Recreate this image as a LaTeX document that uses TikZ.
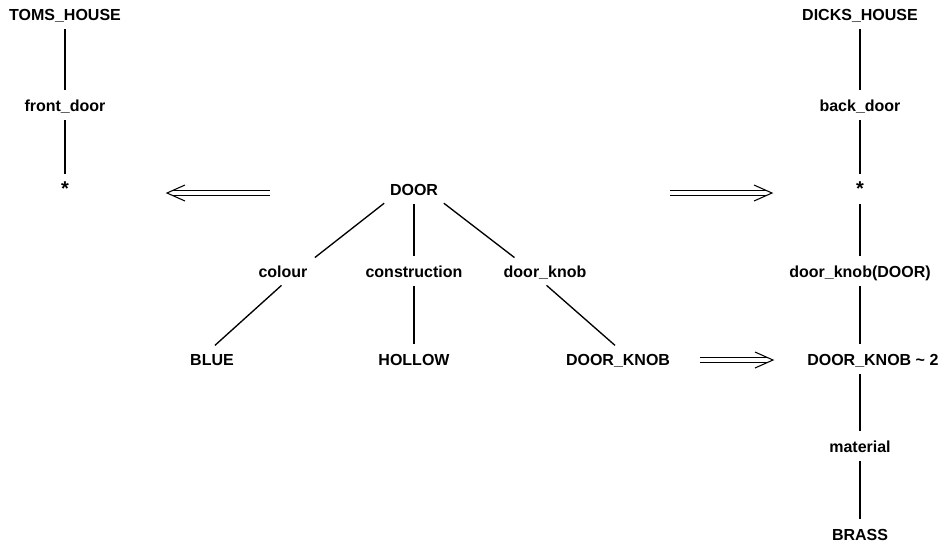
\documentclass[tikz,border=0pt]{standalone}
\usepackage{fontspec}
\setmainfont{Liberation Sans}
\usetikzlibrary{calc}
\begin{document}
\begin{tikzpicture}[x=0.75pt,y=-0.75pt,
  lbl/.style={font=\fontsize{12}{14}\selectfont\bfseries, text height=8.6pt, text depth=0pt, inner xsep=3pt, inner ysep=4.5pt},
  starnode/.style={lbl, font=\fontsize{15}{16}\selectfont\bfseries},
  link/.style={line width=1pt, shorten >=3pt, shorten <=1.5pt},
  dblline/.style={double, double distance=2.8pt, line width=0.7pt},
  chevron/.style={line width=0.8pt, line join=miter}]
\fill[white] (0,0) rectangle (944,544);
\useasboundingbox (0,0) rectangle (944,544);

% left column
\node[lbl] (toms) at (65,15) {TOMS\_HOUSE};
\node[lbl] (front) at (65,106) {front\_door};
\node[starnode] (star1) at (65,190) {*};

% right column
\node[lbl] (dicks) at (860,15) {DICKS\_HOUSE};
\node[lbl] (back) at (860,106) {back\_door};
\node[starnode] (star2) at (860,190) {*};
\node[lbl] (dkd) at (860,272) {door\_knob(DOOR)};
\node[lbl, anchor=west] (dk2) at (803,360) {DOOR\_KNOB \textasciitilde\ 2};
\node[lbl] (mat) at (860,447) {material};
\node[lbl] (brass) at (860,535) {BRASS};

% middle tree
\node[lbl] (door) at (414,190) {DOOR};
\node[lbl] (colour) at (283,272) {colour};
\node[lbl] (constr) at (414,272) {construction};
\node[lbl] (dknob) at (545,272) {door\_knob};
\node[lbl] (blue) at (212,360) {BLUE};
\node[lbl] (hollow) at (414,360) {HOLLOW};
\node[lbl] (DK) at (618,360) {DOOR\_KNOB};

% arrow end points
\coordinate (la1) at (270,193);
\coordinate (la2) at (167,193);
\coordinate (ra1) at (670,193);
\coordinate (ra2) at (772,193);
\coordinate (lb1) at (700,360);
\coordinate (lb2) at (773,360);

% connectors
\draw[link] (toms) -- (front);
\draw[link] (front) -- (star1);
\draw[link] (dicks) -- (back);
\draw[link] (back) -- (star2);
\draw[link] (star2) -- (dkd);
\draw[link] (dkd) -- (dkd |- dk2.north);
\draw[link] (dkd |- dk2.south) -- (mat);
\draw[link] (mat) -- (brass);

\draw[link] (door.south west) -- (colour.north east);
\draw[link] (door) -- (constr);
\draw[link] (door.south east) -- ($(dknob.north west)!0.2!(dknob.north east)$);
\draw[link] (colour.south) -- (blue.north);
\draw[link] (constr) -- (hollow);
\draw[link] (dknob.south) -- (DK.north);

% double arrows
\draw[dblline] (la1) -- ($(la2)!4.5pt!(la1)$);
\draw[chevron] ($(la2)+(13.5pt,6pt)$) -- (la2) -- ($(la2)+(13.5pt,-6pt)$);
\draw[dblline] (ra1) -- ($(ra2)!4.5pt!(ra1)$);
\draw[chevron] ($(ra2)+(-13.5pt,6pt)$) -- (ra2) -- ($(ra2)+(-13.5pt,-6pt)$);
\draw[dblline] (lb1) -- ($(lb2)!4.5pt!(lb1)$);
\draw[chevron] ($(lb2)+(-13.5pt,6pt)$) -- (lb2) -- ($(lb2)+(-13.5pt,-6pt)$);
\end{tikzpicture}
\end{document}
